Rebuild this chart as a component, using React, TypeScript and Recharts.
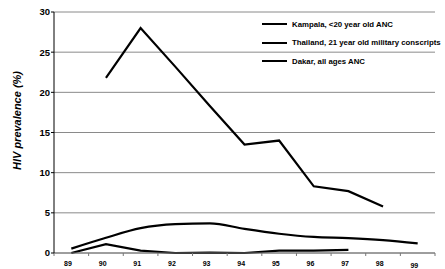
import { LineChart, Line, XAxis, YAxis, CartesianGrid, Legend } from 'recharts'

const years = [89, 90, 91, 92, 93, 94, 95, 96, 97, 98, 99]
const kampala = [null, 21.8, 28.0, 23.2, 18.3, 13.5, 14.0, 8.3, 7.7, 5.8, null]
const thailand = [0.55, 1.9, 3.1, 3.6, 3.7, 3.0, 2.4, 2.0, 1.85, 1.6, 1.2]
const dakar = [0, 1.1, 0.3, 0, 0.05, 0, 0.3, 0.3, 0.4, null, null]
const yTicks = [0, 5, 10, 15, 20, 25, 30]
const xTicks = [88.5, 89.5, 90.5, 91.5, 92.5, 93.5, 94.5, 95.5, 96.5, 97.5, 98.5, 99.5]
const seriesOrder = ['kampala', 'thailand', 'dakar']

const data = years.map((y, i) => ({
  year: y,
  kampala: kampala[i],
  thailand: thailand[i],
  dakar: dakar[i],
}))

const font = 'Arial, "Liberation Sans", sans-serif'

function XTick(props: any) {
  const { x, y, payload } = props
  const v = payload.value + 0.5
  if (v > 99) return null
  return (
    <text x={x + 14} y={y + (v === 99 ? 10 : 8)} textAnchor="middle" fontFamily={font} fontSize={7} fontWeight="bold" fill="#000">
      {v}
    </text>
  )
}

function LegendBox(props: any) {
  const items = [...(props.payload || [])].sort(
    (a: any, b: any) => seriesOrder.indexOf(a.dataKey) - seriesOrder.indexOf(b.dataKey)
  )
  return (
    <div style={{ fontFamily: font, fontSize: 7.8, fontWeight: 'bold', color: '#000' }}>
      {items.map((it: any) => (
        <div key={it.value} style={{ display: 'flex', alignItems: 'center', height: 18.5, whiteSpace: 'nowrap' }}>
          <div style={{ width: 25, height: 2, background: '#000', marginRight: 5, flexShrink: 0 }} />
          {it.value}
        </div>
      ))}
    </div>
  )
}

export default function App() {
  return (
    <div style={{ width: 445, height: 269, background: '#fff' }}>
      <style>{'body{margin:0}'}</style>
      <LineChart width={445} height={269} data={data} margin={{ top: 12, right: 10, bottom: 2, left: 24 }}>
        <CartesianGrid vertical={false} stroke="#8a8a8a" />
        <XAxis
          dataKey="year"
          type="number"
          domain={[88.5, 99.5]}
          ticks={xTicks}
          interval={0}
          height={14}
          stroke="#777"
          tickSize={3}
          tick={<XTick />}
        />
        <YAxis
          domain={[0, 30]}
          ticks={yTicks}
          width={30}
          stroke="#000"
          tickSize={3}
          tickMargin={1}
          tick={{ fontFamily: font, fontSize: 9.5, fontWeight: 'bold', fill: '#000' }}
          label={{
            value: 'HIV prevalence (%)',
            angle: -90,
            position: 'insideLeft',
            dx: -12,
            dy: -12,
            style: { fontFamily: font, fontSize: 11, fontStyle: 'italic', fontWeight: 600, fill: '#000', textAnchor: 'middle' },
          }}
        />
        <Legend
          layout="horizontal"
          verticalAlign="middle"
          align="center"
          content={<LegendBox />}
          wrapperStyle={{ top: 15, left: 262, width: 183 }}
        />
        <Line dataKey="kampala" name="Kampala, <20 year old ANC" stroke="#000" strokeWidth={2.2} dot={false} isAnimationActive={false} />
        <Line dataKey="thailand" name="Thailand, 21 year old military conscripts" type="monotone" stroke="#000" strokeWidth={2.2} dot={false} isAnimationActive={false} />
        <Line dataKey="dakar" name="Dakar, all ages ANC" stroke="#000" strokeWidth={2.2} dot={false} isAnimationActive={false} />
      </LineChart>
    </div>
  )
}
